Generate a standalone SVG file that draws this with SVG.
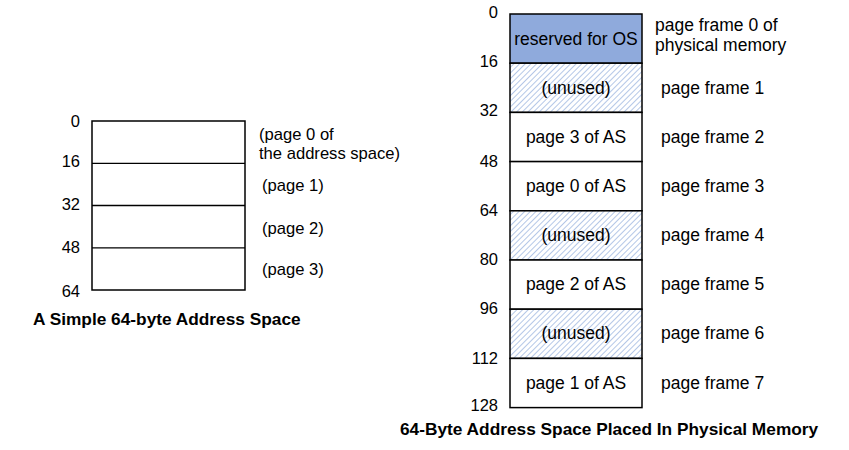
<svg xmlns="http://www.w3.org/2000/svg" width="849" height="450" viewBox="0 0 849 450">
<defs>
<pattern id="hatch" patternUnits="userSpaceOnUse" width="4" height="4" patternTransform="rotate(45)">
<rect width="4" height="4" fill="#ffffff"/>
<line x1="0" y1="0" x2="0" y2="4" stroke="#B4C7E7" stroke-width="2"/>
</pattern>
</defs>
<style>
text{font-family:"Liberation Sans",Arial,sans-serif;font-size:17px;fill:#000}
.num{text-anchor:end;font-size:16.5px}
.cell{text-anchor:middle;font-size:17.5px}
.lab{font-size:17.5px}
.lab2{font-size:16.6px}
.title{font-weight:bold;font-size:17.3px}
.box{fill:#ffffff;stroke:#000;stroke-width:1.5}
.div{stroke:#000;stroke-width:1.3}
.res{fill:#8FAADC;stroke:#000;stroke-width:1.5}
.unused{fill:url(#hatch);stroke:#000;stroke-width:1.5}
.used{fill:#ffffff;stroke:#000;stroke-width:1.5}
</style>

<g id="address-space">
<rect class="box" x="92" y="121" width="153" height="169"/>
<line class="div" x1="92" y1="163.3" x2="245" y2="163.3"/>
<line class="div" x1="92" y1="205.5" x2="245" y2="205.5"/>
<line class="div" x1="92" y1="247.8" x2="245" y2="247.8"/>
<text class="num" x="80" y="127">0</text>
<text class="num" x="80" y="167">16</text>
<text class="num" x="80" y="210">32</text>
<text class="num" x="80" y="253">48</text>
<text class="num" x="80" y="297">64</text>
<text class="lab2" x="259" y="140">(page 0 of</text>
<text class="lab2" x="259" y="159">the address space)</text>
<text class="lab2" x="262" y="191">(page 1)</text>
<text class="lab2" x="262" y="234">(page 2)</text>
<text class="lab2" x="262" y="275">(page 3)</text>
<text class="title" x="33" y="325">A Simple 64-byte Address Space</text>
</g>

<g id="physical-memory">
<g id="frame0"><rect class="res" x="510" y="14" width="132" height="49.2"/><text class="cell" x="576" y="44.5">reserved for OS</text></g>
<g id="frame1"><rect class="unused" x="510" y="63.2" width="132" height="49.2"/><text class="cell" x="576" y="93.5">(unused)</text></g>
<g id="frame2"><rect class="used" x="510" y="112.4" width="132" height="49.2"/><text class="cell" x="576" y="142.5">page 3 of AS</text></g>
<g id="frame3"><rect class="used" x="510" y="161.6" width="132" height="49.2"/><text class="cell" x="576" y="191.5">page 0 of AS</text></g>
<g id="frame4"><rect class="unused" x="510" y="210.8" width="132" height="49.2"/><text class="cell" x="576" y="241">(unused)</text></g>
<g id="frame5"><rect class="used" x="510" y="260" width="132" height="49.2"/><text class="cell" x="576" y="290">page 2 of AS</text></g>
<g id="frame6"><rect class="unused" x="510" y="309.2" width="132" height="49.2"/><text class="cell" x="576" y="339">(unused)</text></g>
<g id="frame7"><rect class="used" x="510" y="358.4" width="132" height="49.2"/><text class="cell" x="576" y="388.5">page 1 of AS</text></g>
<text class="num" x="498" y="18">0</text>
<text class="num" x="498" y="67">16</text>
<text class="num" x="498" y="116">32</text>
<text class="num" x="498" y="167">48</text>
<text class="num" x="498" y="216">64</text>
<text class="num" x="498" y="265">80</text>
<text class="num" x="498" y="314">96</text>
<text class="num" x="498" y="364">112</text>
<text class="num" x="498" y="411">128</text>
<text class="lab" x="655" y="31">page frame 0 of</text>
<text class="lab" x="655" y="51">physical memory</text>
<text class="lab" x="661" y="93.5">page frame 1</text>
<text class="lab" x="661" y="142.5">page frame 2</text>
<text class="lab" x="661" y="191.5">page frame 3</text>
<text class="lab" x="661" y="241">page frame 4</text>
<text class="lab" x="661" y="290">page frame 5</text>
<text class="lab" x="661" y="339">page frame 6</text>
<text class="lab" x="661" y="388.5">page frame 7</text>
<text class="title" x="400" y="435">64-Byte Address Space Placed In Physical Memory</text>
</g>
</svg>
